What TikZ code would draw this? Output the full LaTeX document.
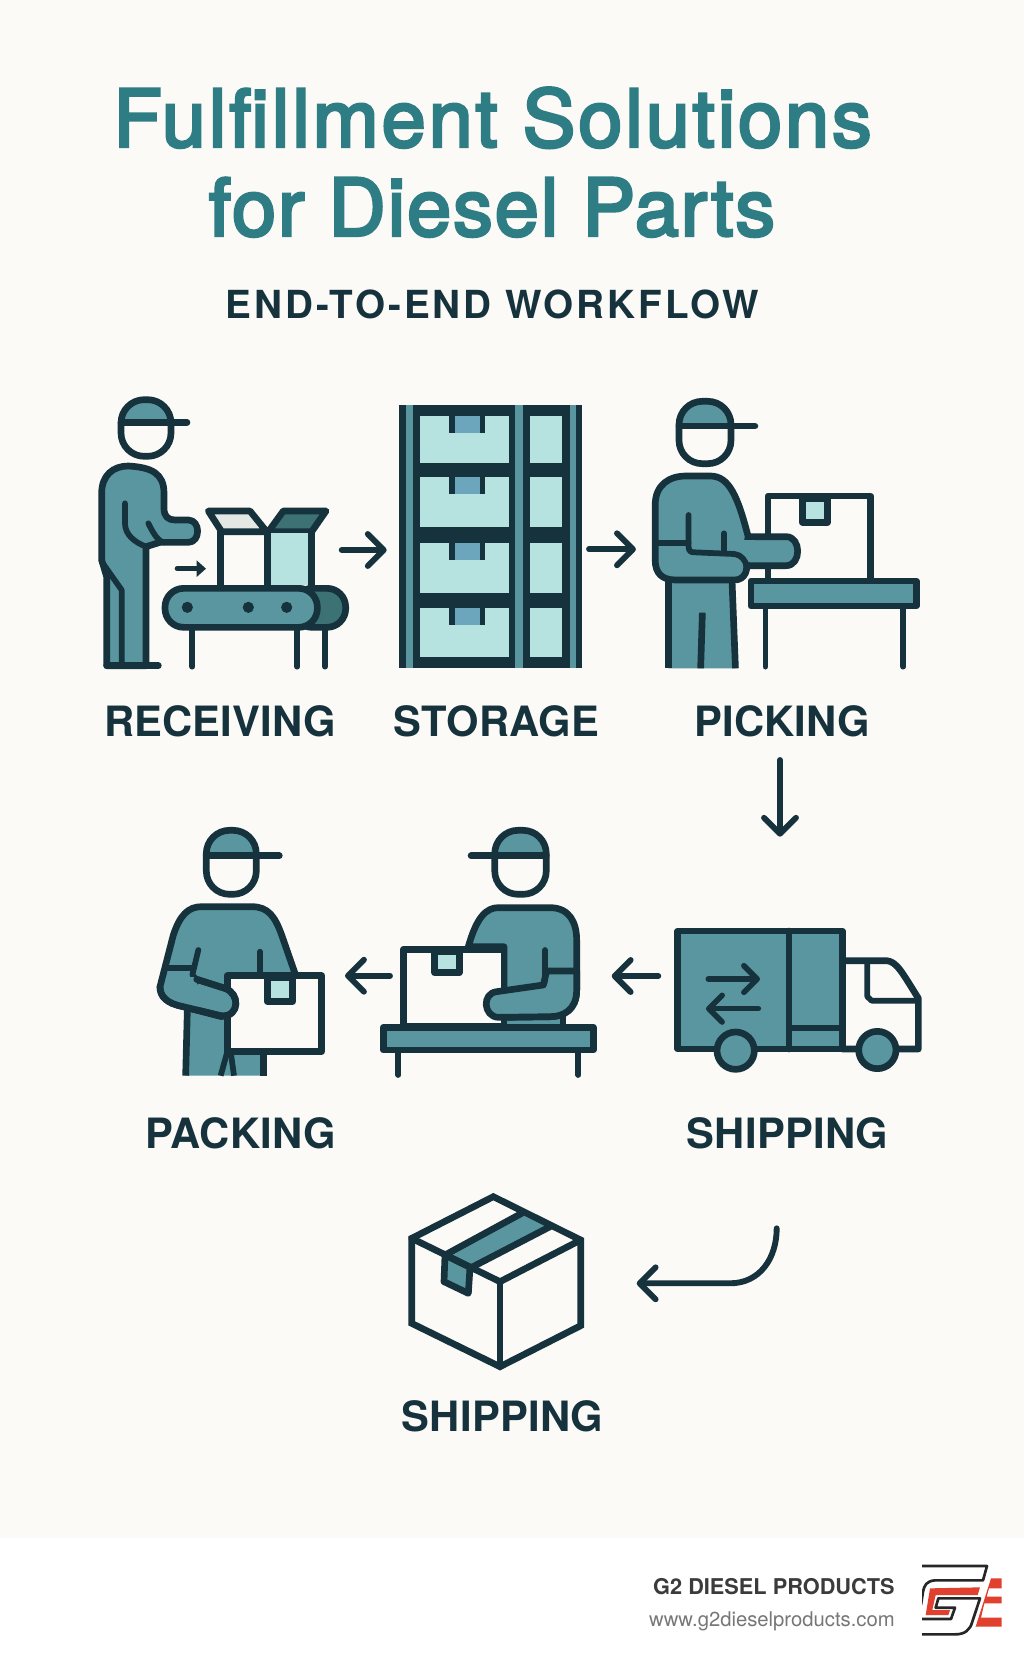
\documentclass[tikz,border=0pt]{standalone}
\usepackage{xcolor}
\usepackage{fontspec}
\definecolor{cPaper}{HTML}{FBFAF6}
\definecolor{cTitle}{HTML}{2E7C84}
\definecolor{cDark}{HTML}{16323C}
\definecolor{cTeal}{HTML}{5A96A0}
\definecolor{cDeep}{HTML}{3C7274}
\definecolor{cPale}{HTML}{B6E3E0}
\definecolor{cTag}{HTML}{6BA6BC}
\definecolor{cFlap}{HTML}{E4E8E5}
\definecolor{cFootA}{HTML}{3B3B3B}
\definecolor{cFootB}{HTML}{777777}
\definecolor{cLogo}{HTML}{E2402F}
\setmainfont{TeX Gyre Heros}
\newfontfamily\fTitle[FakeBold=3.5,LetterSpace=3.6]{TeX Gyre Heros}
\newfontfamily\fSub[LetterSpace=7.5]{TeX Gyre Heros}
\newfontfamily\fLabel[LetterSpace=.6]{TeX Gyre Heros}
\usetikzlibrary{positioning,arrows.meta}
\tikzset{
  node-title/.style={anchor=base,text=cTitle,inner sep=0,font=\fontsize{59.5}{60}\fTitle},
  node-sub/.style={anchor=base,text=cDark,inner sep=0,font=\fontsize{29}{30}\fSub\bfseries},
  node-label/.style={anchor=base,text=cDark,inner sep=0,font=\fontsize{31.3}{32}\fLabel\bfseries},
  node-foot/.style={anchor=base east,inner sep=0},
  arrow/.style={-{Straight Barb[length=12pt,width=24pt,round]},line width=4.4pt,line cap=round,draw=cDark},
  stroke-dark/.style={draw=cDark,line width=5pt,line join=round,line cap=round},
  stroke-thin/.style={draw=cDark,line width=4.3pt,line join=round,line cap=round},
  shape-teal/.style={stroke-dark,fill=cTeal},
  shape-paper/.style={stroke-dark,fill=cPaper},
  icon-at/.style={shift={#1},x=.25pt,y=-.25pt},
  pics/worker-head/.style={code={
    \fill[cTeal] (-25,-6.5) [rounded corners=17.5pt] -- (-25,-32) -- (25,-32) [sharp corners] -- (25,-6.5) -- cycle;
    \draw[stroke-dark,rounded corners=17.5pt] (-25,-32) rectangle (25,32);
    \draw[stroke-dark] (-25,-6.5) -- (#1,-6.5);
  }},
}
\begin{document}
\begin{tikzpicture}[x=.75pt,y=-.75pt]
  \useasboundingbox (0,0) rectangle (1024,1666);
  \fill[cPaper] (0,0) rectangle (1024,1538);
  \fill[white] (0,1538) rectangle (1024,1666);

  \node[node-title] (t1) at (492.5,146.7) {Fulfillment Solutions};
  \node[node-title] (t2) at (492,235.7) {\addfontfeature{LetterSpace=2.4}for Diesel Parts};
  \node[node-sub] (t3) at (492.5,318) {END-TO-END WORKFLOW};

  % receiving
  \pic[yscale=.885] at (146,428) {worker-head=41};
  \begin{scope}[icon-at={(80,380)}]
    \filldraw[shape-teal] (80,857) -- (80,590) -- (65,540) -- (65,340)
      .. controls (65,285) and (100,258) .. (145,258)
      .. controls (215,262) and (252,280) .. (252,340) -- (252,385)
      .. controls (252,410) and (265,420) .. (285,420) -- (325,420)
      .. controls (362,420) and (362,487) .. (325,487) -- (240,487)
      -- (198,500) -- (198,857) -- cycle;
    \draw[stroke-thin] (65,545) -- (125,630) -- (125,857);
    \draw[stroke-thin] (135,370) -- (135,430) .. controls (135,465) and (165,487) .. (198,500);
    \draw[stroke-thin] (205,430) .. controls (220,460) and (235,487) .. (255,487);
    \draw[stroke-dark] (80,857) -- (235,857);
    \foreach \x in {337,652,735} \draw[stroke-thin] (\x,740) -- (\x,860);
    \filldraw[stroke-dark,fill=cDeep,rounded corners=14pt] (640,625) rectangle (797,742);
    \filldraw[stroke-dark,fill=cFlap] (385,393) -- (510,393) -- (560,455) -- (425,455) -- cycle;
    \filldraw[stroke-dark,fill=cDeep] (610,393) -- (738,393) -- (695,455) -- (565,455) -- cycle;
    \fill[cPale] (565,460) rectangle (695,615);
    \draw[stroke-dark] (422,455) -- (422,615);
    \draw[stroke-dark] (563,455) -- (563,615);
    \draw[stroke-dark] (695,455) -- (695,615);
    \filldraw[stroke-dark,fill=cTeal,rounded corners=14pt] (255,625) rectangle (712,742);
    \foreach \x in {322,505,620} \fill[cDark] (\x,682) circle[radius=4.2pt];
    \draw[draw=cDark,line width=4pt,line cap=round,-{Triangle[length=7pt,width=12pt]}] (292,566) -- (378,566);
  \end{scope}

  % storage
  \fill[cDark] (399.3,405) rectangle (582.1,668.3);
  \foreach \xa/\xb in {405.5/413,514.7/522.6,569.8/576}
    \fill[cTeal] (\xa,405) rectangle (\xb,668.3);
  \foreach \ya/\yb in {415.7/463.3,477.3/527.3,542.7/593.3,608.3/657.3} {
    \fill[cPale] (420,\ya) rectangle (508.8,\yb);
    \fill[cPale] (529.5,\ya) rectangle (562.2,\yb);
    \fill[cDark] (448.5,\ya) rectangle (484.7,\ya+17);
    \fill[cTag] (454.7,\ya) rectangle (479.5,\ya+17);
  }

  % picking
  \pic[yscale=.975,xscale=1.04] at (705,432.5) {worker-head=48};
  \begin{scope}[shift={(390,390)},x=.2583pt,y=-.25pt]
    \foreach \x in {1090,1490} \draw[stroke-thin] (\x,650) -- (\x,830);
    \draw[stroke-dark] (1098,570) -- (1098,318) -- (1395,318) -- (1395,570);
    \filldraw[stroke-dark,fill=cPale] (1197,325) rectangle (1270,397);
    \filldraw[stroke-dark,fill=cTeal] (1048,573) rectangle (1528,648);
    \fill[cTeal] (808,560) -- (808,835) -- (1003,835) -- (995,560) -- cycle;
    \draw[stroke-dark,line cap=butt] (808,570) -- (808,835);
    \draw[stroke-dark,line cap=butt] (993,570) -- (1003,835);
    \draw[stroke-dark,line cap=butt] (907,668) -- (902,835);
    \filldraw[shape-teal] (1040,440) -- (1150,440) .. controls (1195,440) and (1195,527) .. (1150,527) -- (1030,527) -- (1000,450) -- cycle;
    \filldraw[shape-teal] (770,510) -- (770,345) .. controls (770,285) and (810,258) .. (860,258)
      -- (930,258) .. controls (985,258) and (1010,320) .. (1040,440)
      -- (1030,500) .. controls (1045,540) and (1030,570) .. (1000,570) -- (830,570)
      .. controls (790,570) and (770,550) .. (770,510) -- cycle;
    \fill[cTeal] (1000,450) rectangle (1060,515);
    \draw[stroke-thin] (867,375) -- (867,470) .. controls (867,485) and (875,487) .. (885,487) -- (1000,492) .. controls (1020,493) and (1035,515) .. (1035,530);
    \draw[stroke-thin] (970,430) -- (970,490);
    \draw[stroke-thin] (775,458) -- (867,458);
  \end{scope}

  % packing at the table
  \pic[xscale=-1.03] at (520.5,862.3) {worker-head=48};
  \begin{scope}[icon-at={(140,810)}]
    \foreach \x in {775,1315} \draw[stroke-thin] (\x,722) -- (\x,795);
    \fill[cTeal] (1080,600) rectangle (1270,650);
    \draw[stroke-thin] (1270,610) -- (1270,645);
    \filldraw[shape-teal] (985,410) .. controls (1010,320) and (1040,293) .. (1075,293) -- (1230,293)
      .. controls (1290,293) and (1310,340) .. (1310,390) -- (1310,540)
      .. controls (1310,600) and (1270,620) .. (1230,620) -- (1092,622) -- (1092,410) -- cycle;
    \filldraw[shape-paper] (790,418) rectangle (1092,648);
    \filldraw[stroke-dark,fill=cPale] (884,425) rectangle (958,488);
    % arm lies over the carton
    \filldraw[shape-teal] (1210,525) -- (1070,545) .. controls (1025,550) and (1030,620) .. (1075,622) -- (1230,620)
      .. controls (1270,620) and (1310,600) .. (1310,540) -- (1310,483) -- (1220,483) -- cycle;
    \draw[stroke-thin] (1215,420) -- (1215,510) .. controls (1215,525) and (1205,525) .. (1195,527);
    \filldraw[stroke-dark,fill=cTeal] (730,652) rectangle (1360,720);
  \end{scope}

  % packing with box in hands
  \pic at (231.3,862.3) {worker-head=48};
  \begin{scope}[icon-at={(140,810)}]
    \fill[cTeal] (140,590) -- (135,797) -- (370,797) -- (370,590) -- cycle;
    \draw[stroke-dark,line cap=butt] (142,600) -- (137,797);
    \draw[stroke-dark,line cap=butt] (370,725) -- (370,797);
    \draw[stroke-thin,line cap=butt] (262,725) -- (242,797);
    \draw[stroke-thin,line cap=butt] (272,725) -- (282,797);
    \filldraw[shape-teal] (60,530) -- (100,375) .. controls (120,315) and (145,290) .. (185,290) -- (335,290)
      .. controls (385,290) and (405,320) .. (425,375) -- (465,490) -- (262,600) -- (245,620) -- (130,590)
      .. controls (80,580) and (60,560) .. (60,530) -- cycle;
    \draw[stroke-thin] (175,420) -- (157,495) -- (170,508);
    \draw[stroke-thin] (360,425) -- (360,490);
    \draw[stroke-thin] (78,475) -- (160,475);
    \filldraw[shape-paper] (262,497) rectangle (545,725);
    \filldraw[stroke-dark,fill=cPale] (382,503) rectangle (458,575);
    \filldraw[shape-teal] (170,508) -- (255,535) .. controls (300,550) and (300,620) .. (245,618) -- (150,595) -- (150,540) -- cycle;
    \fill[cTeal] (90,500) rectangle (170,590);
    \draw[stroke-dark] (60,530) .. controls (60,560) and (80,580) .. (130,590) -- (245,618);
    \draw[stroke-dark] (170,508) -- (255,535) .. controls (300,550) and (300,620) .. (245,618);
  \end{scope}

  % truck
  \begin{scope}[icon-at={(600,900)}]
    \filldraw[shape-paper] (727,182) -- (860,182) .. controls (890,185) and (905,215) .. (955,295) -- (955,447) -- (727,447) -- cycle;
    \draw[stroke-thin] (802,185) -- (802,290) -- (815,302) -- (950,302);
    \filldraw[shape-teal] (233,93) rectangle (727,447);
    \draw[stroke-dark] (567,93) -- (567,447);
    \draw[stroke-thin] (575,385) -- (720,385);
    \draw[arrow,line width=4.2pt,-{Straight Barb[length=10pt,width=20pt,round]}] (325,237) -- (480,237);
    \draw[arrow,line width=4.2pt,-{Straight Barb[length=10pt,width=20pt,round]}] (475,326) -- (318,326);
    \foreach \x/\y in {407/452,832/450} \filldraw[shape-teal] (\x,\y) circle[radius=14pt];
  \end{scope}

  % final box
  \begin{scope}[icon-at={(390,1180)}]
    \fill[cTeal] (395,100) -- (480,140) -- (245,262) -- (165,225) -- cycle;
    \filldraw[shape-teal] (165,225) -- (240,262) -- (235,340) -- (162,305) -- cycle;
    \draw[stroke-dark,line join=miter] (310,50) -- (572,180) -- (572,437) -- (330,560) -- (65,430) -- (65,175) -- cycle;
    \draw[stroke-dark] (65,175) -- (330,305) -- (572,180);
    \draw[stroke-dark] (330,305) -- (330,560);
    \draw[stroke-dark] (395,100) -- (165,225);
    \draw[stroke-dark] (480,140) -- (245,262);
  \end{scope}

  % step names
  \node[node-label] (l1) at (220,736.7) {RECEIVING};
  \node[node-label] (l2) at (496.5,736.7) {STORAGE};
  \node[node-label] (l3) at (782,736.7) {PICKING};
  \node[node-label] (l4) at (240.6,1148) {PACKING};
  \node[node-label] (l5) at (787.5,1148) {SHIPPING};
  \node[node-label] (l6) at (502.5,1431) {SHIPPING};

  % arrow ends
  \coordinate (a1) at (341.7,550);
  \coordinate (a2) at (386.7,550);
  \coordinate (b1) at (589,549.3);
  \coordinate (b2) at (635.9,549.3);
  \coordinate (c2) at (780,836.7);
  \coordinate (c1) at (780,760);
  \coordinate (d1) at (658.3,976);
  \coordinate (d2) at (611.7,976);
  \coordinate (e1) at (390,975.7);
  \coordinate (e2) at (345,975.7);
  \coordinate (f1) at (776.7,1228.3);
  \coordinate (f2) at (636.7,1283.3);
  \draw[arrow] (a1) -- (a2);
  \draw[arrow] (b1) -- (b2);
  \draw[arrow] (c1) -- (c2);
  \draw[arrow] (d1) -- (d2);
  \draw[arrow] (e1) -- (e2);
  \draw[arrow] (f1) .. controls (776.7,1258) and (760,1283.3) .. (730,1283.3) -- (f2);

  % footer
  \node[node-foot,text=cFootA,font=\fontsize{16.3}{18}\selectfont\bfseries] (g1) at (895,1594) {G2 DIESEL PRODUCTS};
  \node[node-foot,text=cFootB,font=\fontsize{15.2}{18}\selectfont,below=24pt of g1.base east,anchor=base east] (g2) {www.g2dieselproducts.com};

  \begin{scope}[icon-at={(915,1555)}]
    \clip (21,20) rectangle (260,250);
    \fill[cLogo] (45,100) -- (195,97) -- (188,120) -- (62,120) -- (52,165) -- (105,165) -- (100,180) -- (32,180) -- cycle;
    \fill[cLogo] (228,70) -- (262,70) -- (262,100) -- (222,100) -- (215,125) -- (262,125) -- (262,145) -- (208,145) -- (198,188) -- (262,188) -- (262,215) -- (182,215) -- cycle;
    \draw[draw=black!85,line width=2pt,line join=round] (18,33) -- (216,33) -- (204,76) -- (60,76) .. controls (35,78) and (28,90) .. (24,110) -- (18,150);
    \draw[draw=black!85,line width=2pt,line join=round] (18,238) -- (120,238) .. controls (150,238) and (165,225) .. (172,200) -- (195,130) -- (70,130) -- (62,158) -- (120,158) -- (108,192) -- (18,192);
  \end{scope}
\end{tikzpicture}
\end{document}
